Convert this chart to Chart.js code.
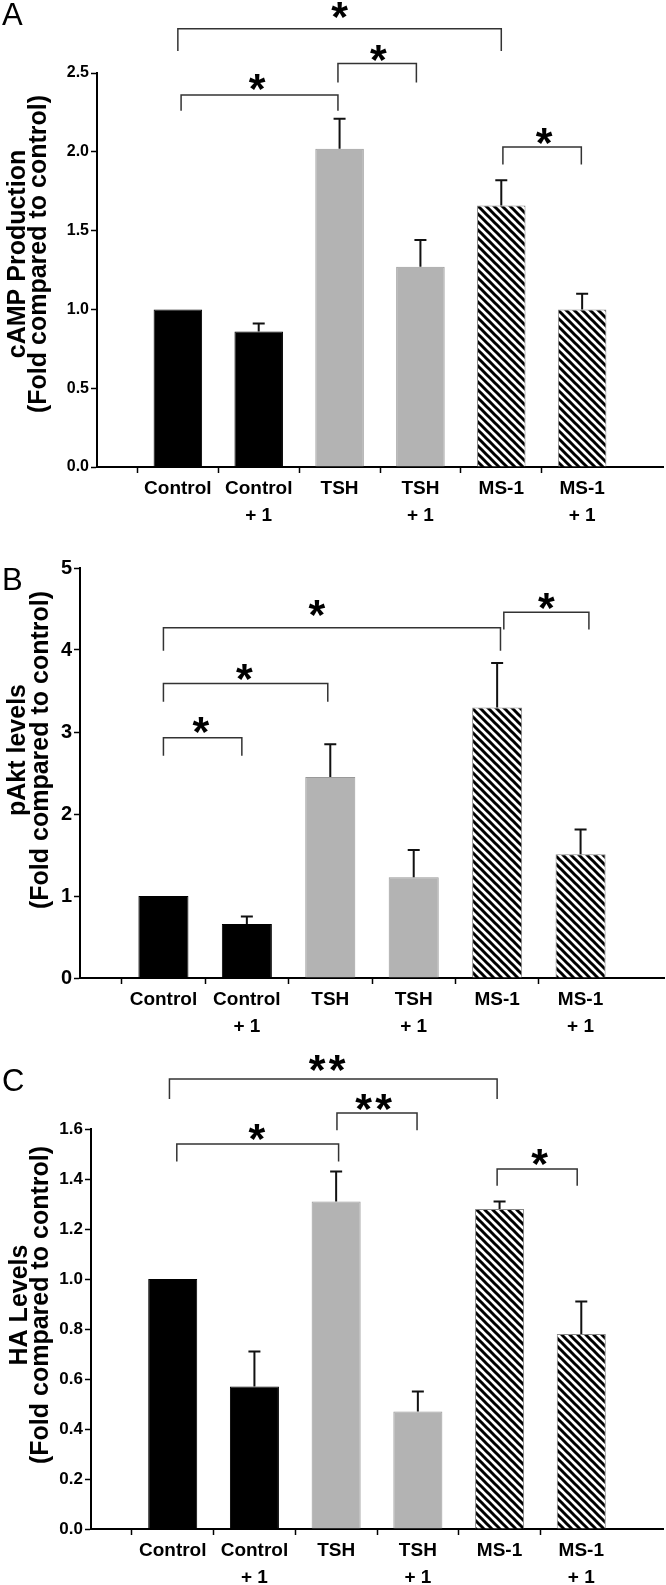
<!DOCTYPE html>
<html>
<head>
<meta charset="utf-8">
<script src="https://cdn.jsdelivr.net/npm/chart.js@4.4.1/dist/chart.umd.min.js"></script>
<style>
  body { margin: 0; background: #fff; }
  #wrap { position: relative; width: 666px; height: 1585px; }
  canvas { position: absolute; left: 0; }
</style>
</head>
<body>
<div id="wrap">
  <canvas id="chartA" width="666" height="540" style="top:0px"></canvas>
  <canvas id="chartB" width="666" height="520" style="top:540px"></canvas>
  <canvas id="chartC" width="666" height="540" style="top:1045px"></canvas>
</div>
<script>
window.addEventListener('load', setup);

// groups on the x axis (same for the three panels)
var groups = [['Control', ''], ['Control', '+ 1'], ['TSH', ''], ['TSH', '+ 1'], ['MS-1', ''], ['MS-1', '+ 1']];
var fills = ['black', 'black', 'gray', 'gray', 'hatch', 'hatch'];

// A - cAMP production
var campMean = [1.00, 0.86, 2.02, 1.27, 1.66, 1.00];
var campErr = [0, 0.05, 0.19, 0.17, 0.16, 0.10];
var campTicks = [0, 0.5, 1.0, 1.5, 2.0, 2.5];
// significance: [from group, to group, bracket level, leg end, star at group, star level, text]
var campSig = [
  [0, 4, 2.78, 2.64, 2.0, 2.90, '*'],
  [0.04, 1.98, 2.36, 2.26, 0.98, 2.44, '*'],
  [1.98, 2.95, 2.56, 2.44, 2.48, 2.63, '*'],
  [4.02, 4.99, 2.03, 1.92, 4.53, 2.10, '*']
];

// B - pAkt levels
var aktMean = [1.00, 0.66, 2.45, 1.23, 3.30, 1.51];
var aktErr = [0, 0.09, 0.40, 0.33, 0.54, 0.30];
var aktTicks = [0, 1, 2, 3, 4, 5];
var aktSig = [
  [0, 4.04, 4.27, 3.99, 1.84, 4.51, '*'],
  [4.08, 5.10, 4.46, 4.25, 4.59, 4.60, '*'],
  [0, 1.97, 3.59, 3.37, 0.97, 3.73, '*'],
  [0, 0.94, 2.93, 2.71, 0.45, 3.09, '*']
];

// C - HA levels
var haMean = [1.00, 0.57, 1.31, 0.47, 1.28, 0.78];
var haErr = [0, 0.14, 0.12, 0.08, 0.03, 0.13];
var haTicks = [0, 0.2, 0.4, 0.6, 0.8, 1.0, 1.2, 1.4, 1.6];
var haSig = [
  [-0.04, 3.97, 1.80, 1.72, 1.89, 1.864, '**'],
  [0.05, 2.03, 1.54, 1.47, 1.03, 1.587, '*'],
  [2.01, 2.99, 1.664, 1.595, 2.46, 1.71, '**'],
  [3.97, 4.95, 1.44, 1.373, 4.49, 1.487, '*']
];

var TITLE_FONT = 'bold 25px "Liberation Sans", Arial, sans-serif';
var NARROW = '"Liberation Sans Narrow", "Arial Narrow", "Liberation Sans", Arial, sans-serif';

function hatchPattern() {
  var c = document.createElement('canvas');
  c.width = 8; c.height = 8;
  var g = c.getContext('2d');
  g.fillStyle = '#fff';
  g.fillRect(0, 0, 8, 8);
  g.strokeStyle = '#000';
  g.lineWidth = 3;
  [-8, 0, 8].forEach(function (k) {
    g.beginPath();
    g.moveTo(k - 2, -2);
    g.lineTo(k + 10, 10);
    g.stroke();
  });
  return g.createPattern(c, 'repeat');
}

// error bars, brackets with stars, y title and the panel letter
var extras = {
  id: 'extras',
  afterDatasetsDraw: function (chart, args, o) {
    var ctx = chart.ctx, xs = chart.scales.x, ys = chart.scales.y;
    var p1 = xs.getPixelForValue(1), slot = xs.getPixelForValue(2) - p1;
    function gx(g) { return p1 + g * slot; }
    ctx.save();

    ctx.strokeStyle = '#111';
    ctx.lineWidth = 2;
    o.mean.forEach(function (m, i) {
      var e = o.err[i];
      if (!e) return;
      var cx = gx(i), top = ys.getPixelForValue(m + e), base = ys.getPixelForValue(m);
      ctx.beginPath();
      ctx.moveTo(cx, base); ctx.lineTo(cx, top);
      ctx.moveTo(cx - 6, top); ctx.lineTo(cx + 6, top);
      ctx.stroke();
    });

    ctx.strokeStyle = '#333';
    ctx.lineWidth = 1.5;
    ctx.fillStyle = '#000';
    ctx.font = 'bold 43px "Liberation Sans", Arial, sans-serif';
    ctx.textAlign = 'center';
    ctx.textBaseline = 'alphabetic';
    var m = ctx.measureText('*');
    var shift = (m.actualBoundingBoxAscent - m.actualBoundingBoxDescent) / 2;
    o.sig.forEach(function (s) {
      var xa = gx(s[0]), xb = gx(s[1]), yl = ys.getPixelForValue(s[2]), ye = ys.getPixelForValue(s[3]);
      ctx.beginPath();
      ctx.moveTo(xa, ye); ctx.lineTo(xa, yl); ctx.lineTo(xb, yl); ctx.lineTo(xb, ye);
      ctx.stroke();
      var n = s[6].length, cx = gx(s[4]), cy = ys.getPixelForValue(s[5]);
      for (var k = 0; k < n; k++) {
        ctx.fillText('*', cx + (k - (n - 1) / 2) * 20, cy + shift);
      }
    });

    ctx.font = TITLE_FONT;
    o.title.forEach(function (line, i) {
      ctx.save();
      ctx.translate(o.titleX[i], o.titleY);
      ctx.rotate(-Math.PI / 2);
      ctx.fillText(line, 0, 0);
      ctx.restore();
    });

    ctx.font = '31px "Liberation Sans", Arial, sans-serif';
    ctx.textAlign = 'left';
    ctx.fillText(o.letter, 2, o.letterY);
    ctx.restore();
  }
};

function buildChart(id, cfg, pattern) {
  var labels = [''].concat(groups).concat(['']);
  var data = [null].concat(cfg.mean).concat([null]);
  var bg = [null], border = [null];
  fills.forEach(function (f) {
    if (f === 'black') { bg.push('#000'); border.push('#000'); }
    else if (f === 'gray') { bg.push('#b3b3b3'); border.push('#999'); }
    else { bg.push(pattern); border.push('#888'); }
  });
  bg.push(null); border.push(null);

  return new Chart(document.getElementById(id).getContext('2d'), {
    type: 'bar',
    data: {
      labels: labels,
      datasets: [{ data: data, backgroundColor: bg, borderColor: border, borderWidth: 1,
                   barPercentage: 0.6, categoryPercentage: 1 }]
    },
    options: {
      responsive: false,
      animation: false,
      layout: { padding: { top: cfg.top, right: cfg.right, left: 0, bottom: 0 } },
      plugins: {
        legend: { display: false },
        tooltip: { enabled: false },
        extras: { mean: cfg.mean, err: cfg.err, sig: cfg.sig, title: cfg.title, titleX: cfg.titleX,
                  titleY: cfg.titleY, letter: cfg.letter, letterY: cfg.letterY }
      },
      scales: {
        x: {
          offset: false,
          afterFit: function (s) { s.height = cfg.xHeight; },
          border: { color: '#000', width: 2 },
          grid: { drawOnChartArea: false, tickLength: 6, tickWidth: 1.5,
                  tickColor: function (c) { return (c.index === 0 || c.index === 7) ? 'rgba(0,0,0,0)' : '#000'; } },
          ticks: { autoSkip: false, maxRotation: 0, padding: 2, color: '#000',
                   font: { family: '"Liberation Sans", Arial, sans-serif', size: 19, weight: 'bold', lineHeight: 1.42 } }
        },
        y: {
          min: 0,
          max: cfg.ticks[cfg.ticks.length - 1],
          afterFit: function (s) { s.width = cfg.yWidth; },
          afterBuildTicks: function (s) { s.ticks = cfg.ticks.map(function (v) { return { value: v }; }); },
          border: { color: '#000', width: 2 },
          grid: { drawOnChartArea: false, tickLength: 6, tickWidth: 1.5, tickColor: '#000' },
          ticks: { padding: 2, color: '#000',
                   callback: function (v) { return cfg.decimals ? v.toFixed(cfg.decimals) : String(v); },
                   font: { family: NARROW, size: cfg.tickSize, weight: 'bold' } }
        }
      }
    },
    plugins: [extras]
  });
}

function setup() {
  var pattern = hatchPattern();
  buildChart('chartA', {
    mean: campMean, err: campErr, sig: campSig, ticks: campTicks, decimals: 1, tickSize: 16,
    top: 73, right: 3, xHeight: 73, yWidth: 97,
    title: ['cAMP Production', '(Fold compared to control)'], titleX: [25, 46], titleY: 254,
    letter: 'A', letterY: 25
  }, pattern);
  buildChart('chartB', {
    mean: aktMean, err: aktErr, sig: aktSig, ticks: aktTicks, decimals: 0, tickSize: 20,
    top: 28, right: 1, xHeight: 82, yWidth: 80,
    title: ['pAkt levels', '(Fold compared to control)'], titleX: [25, 48], titleY: 210,
    letter: 'B', letterY: 50
  }, pattern);
  buildChart('chartC', {
    mean: haMean, err: haErr, sig: haSig, ticks: haTicks, decimals: 1, tickSize: 17,
    top: 84, right: 3, xHeight: 56, yWidth: 91,
    title: ['HA Levels', '(Fold compared to control)'], titleX: [27, 48], titleY: 260,
    letter: 'C', letterY: 46
  }, pattern);
}
</script>
</body>
</html>
